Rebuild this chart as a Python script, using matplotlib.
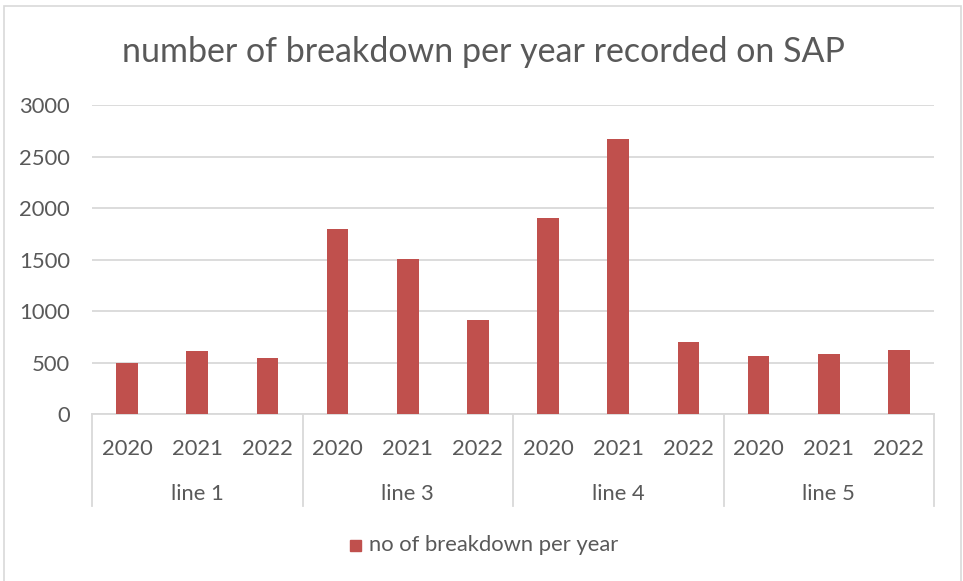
import matplotlib
matplotlib.use("Agg")
import matplotlib.pyplot as plt
from matplotlib.patches import Rectangle
import numpy as np

groups = ["line 1", "line 3", "line 4", "line 5"]
years = ["2020", "2021", "2022"]
values = [500, 610, 542,
          1800, 1505, 910,
          1900, 2668, 703,
          562, 581, 623]
series_name = "no of breakdown per year"
title = "number of breakdown per year recorded on SAP"
yticks = [0, 500, 1000, 1500, 2000, 2500, 3000]

plt.rcParams['font.family'] = ['Lato', 'DejaVu Sans']
TXT = '#595959'
GRID = '#d9d9d9'
BAR = '#c0504d'
FS = 15.8

fig = plt.figure(figsize=(9.63, 5.81), dpi=100)
fig.patches.append(Rectangle((4/963, -0.01), (961-4)/963, 1 - 6/581 + 0.01,
                             transform=fig.transFigure, fill=False,
                             edgecolor=GRID, linewidth=1.2))

L, R = 92/963, 934/963
B, T = 1 - 414.3/581, 1 - 105/581
ax = fig.add_axes([L, B, R - L, T - B])

n = len(values)
x = np.arange(n)
ax.bar(x, values, width=0.31, color=BAR, zorder=3)
ax.set_xlim(-0.5, n - 0.5)
ax.set_ylim(0, 3000)
ax.set_yticks(yticks)
ax.set_yticklabels([str(v) for v in yticks], fontsize=FS, color=TXT)
ax.tick_params(axis='y', length=0, pad=16)
ax.tick_params(axis='x', length=0)
ax.set_xticks([])
ax.yaxis.grid(True, color=GRID, linewidth=1.3, zorder=0)
for s in ['top', 'right', 'left']:
    ax.spines[s].set_visible(False)
ax.spines['bottom'].set_color(GRID)
ax.spines['bottom'].set_linewidth(1.3)

# hierarchical category axis
trans = ax.get_xaxis_transform()
px = 1 / (T - B) / 581  # axes fraction per pixel (vertical)
for i in range(n):
    ax.text(x[i], -35 * px, years[i % 3], transform=trans,
            ha='center', va='center', fontsize=FS, color=TXT)
for g, name in enumerate(groups):
    ax.text(3 * g + 1, -80 * px, name, transform=trans,
            ha='center', va='center', fontsize=FS, color=TXT)
for g in range(len(groups) + 1):
    xb = 3 * g - 0.5
    ax.plot([xb, xb], [0, -92 * px], transform=trans, color=GRID,
            linewidth=1.3, clip_on=False)

fig.text(483/963, 1 - 52/581, title, ha='center', va='center',
         fontsize=24.5, color=TXT)

# legend
fig.patches.append(Rectangle((350/963, 1 - 551/581), 11/963, 11/581,
                             transform=fig.transFigure, color=BAR))
fig.text(369/963, 1 - 545/581, series_name, ha='left', va='center',
         fontsize=FS, color=TXT)

fig.savefig("out.png", dpi=100)
